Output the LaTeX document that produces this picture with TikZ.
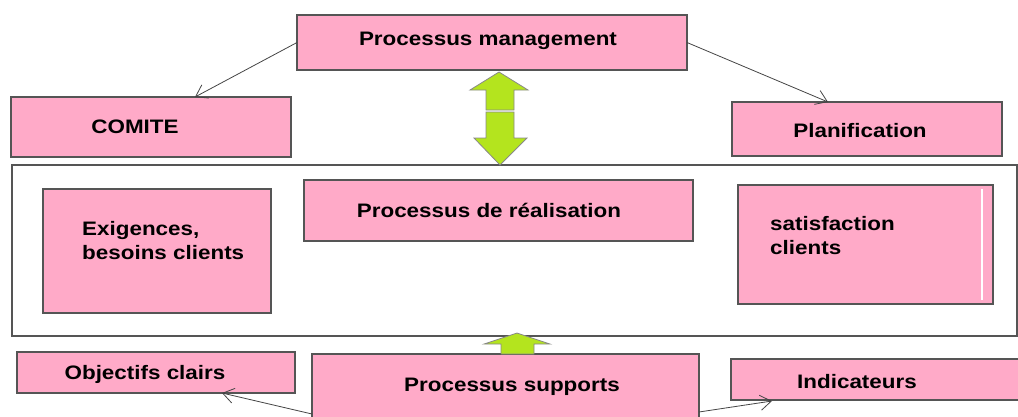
\documentclass[tikz,border=0pt]{standalone}
\usepackage{fontspec}
\setmainfont{Liberation Sans}[FakeStretch=1.15]
\usetikzlibrary{arrows.meta,calc}
\definecolor{boxpink}{HTML}{FFAAC8}
\definecolor{boxline}{HTML}{555555}
\definecolor{arrowgreen}{HTML}{B4E41E}
\definecolor{linkgray}{HTML}{444444}
\begin{document}
\begin{tikzpicture}[x=1pt,y=-1pt,
  pinkbox/.style={draw=boxline,fill=boxpink,line width=1.2pt,inner sep=0pt,outer sep=0pt},
  lbl/.style={font=\fontsize{19.5}{24}\selectfont\bfseries,inner sep=0pt,text=black},
  link/.style={draw=linkgray,line width=0.8pt,-{Straight Barb[length=11pt,width=15pt,line width=0.8pt]}},
  greenarrow/.style={fill=arrowgreen,draw=boxline!70,line width=0.8pt,line join=miter}]
\useasboundingbox (0,0) rectangle (1018,416);
\clip (0,0) rectangle (1018,416);

% outer frame around the realisation process
\node[draw=boxline,line width=1.3pt,minimum width=1005pt,minimum height=171pt,inner sep=0pt] (frame) at (514.5,250.5) {};

% boxes
\node[pinkbox,minimum width=390pt,minimum height=55pt] (mgmt) at (492,42.5) {};
\node[pinkbox,minimum width=280pt,minimum height=60pt] (comite) at (151,127) {};
\node[pinkbox,minimum width=270pt,minimum height=54pt] (plan) at (867,129) {};
\node[pinkbox,minimum width=228pt,minimum height=124pt] (exig) at (157,251) {};
\node[pinkbox,minimum width=389pt,minimum height=61pt] (real) at (498.5,210.5) {};
\node[pinkbox,minimum width=255pt,minimum height=119pt] (sat) at (865.5,244.5) {};
\draw[white,line width=1.2pt] ($(sat.north east)+(-11,4)$) -- ($(sat.south east)+(-11,-4)$);
\node[pinkbox,minimum width=278pt,minimum height=41pt] (obj) at (156,372.5) {};
\node[pinkbox,minimum width=387pt,minimum height=76pt] (sup) at (505.5,392) {};
\node[pinkbox,minimum width=299pt,minimum height=41pt] (ind) at (880.5,379.5) {};

% labels
\node[lbl] (tmgmt) at (488,41) {Processus management};
\node[lbl] (tcomite) at (135,127) {COMITE};
\node[lbl] (tplan) at (860,131) {Planification};
\node[lbl,anchor=west,align=left] (texig) at (82,241) {Exigences,\\besoins clients};
\node[lbl] (treal) at (489,210) {Processus de réalisation};
\node[lbl,anchor=west,align=left] (tsat) at (770,236) {satisfaction\\clients};
\node[lbl] (tobj) at (145,374) {Objectifs clairs};
\node[lbl] (tsup) at (512,387) {Processus supports};
\node[lbl] (tind) at (857,382) {Indicateurs};

% connectors
\draw[link] (mgmt.west) -- ($(comite.north west)+(184,0)$);
\draw[link] (mgmt.east) -- ($(plan.north west)+(96,0)$);
\draw[link] ($(sup.north west)+(0,60)$) -- ($(obj.south west)+(205,0)$);
\draw[link] ($(sup.north east)+(0,58)$) -- ($(ind.south west)+(41,1)$);

% green block arrows
\draw[greenarrow] (499,72) -- (528,90) -- (514,90) -- (514,110) -- (486,110) -- (486,90) -- (470,90) -- cycle;
\draw[greenarrow] (486,112) -- (514,112) -- (514,138) -- (527,138) -- (500,165) -- (474,138) -- (486,138) -- cycle;
\draw[greenarrow] (517,333) -- (550,344) -- (534,344) -- (534,354) -- (501,354) -- (501,344) -- (484,344) -- cycle;
\end{tikzpicture}
\end{document}
